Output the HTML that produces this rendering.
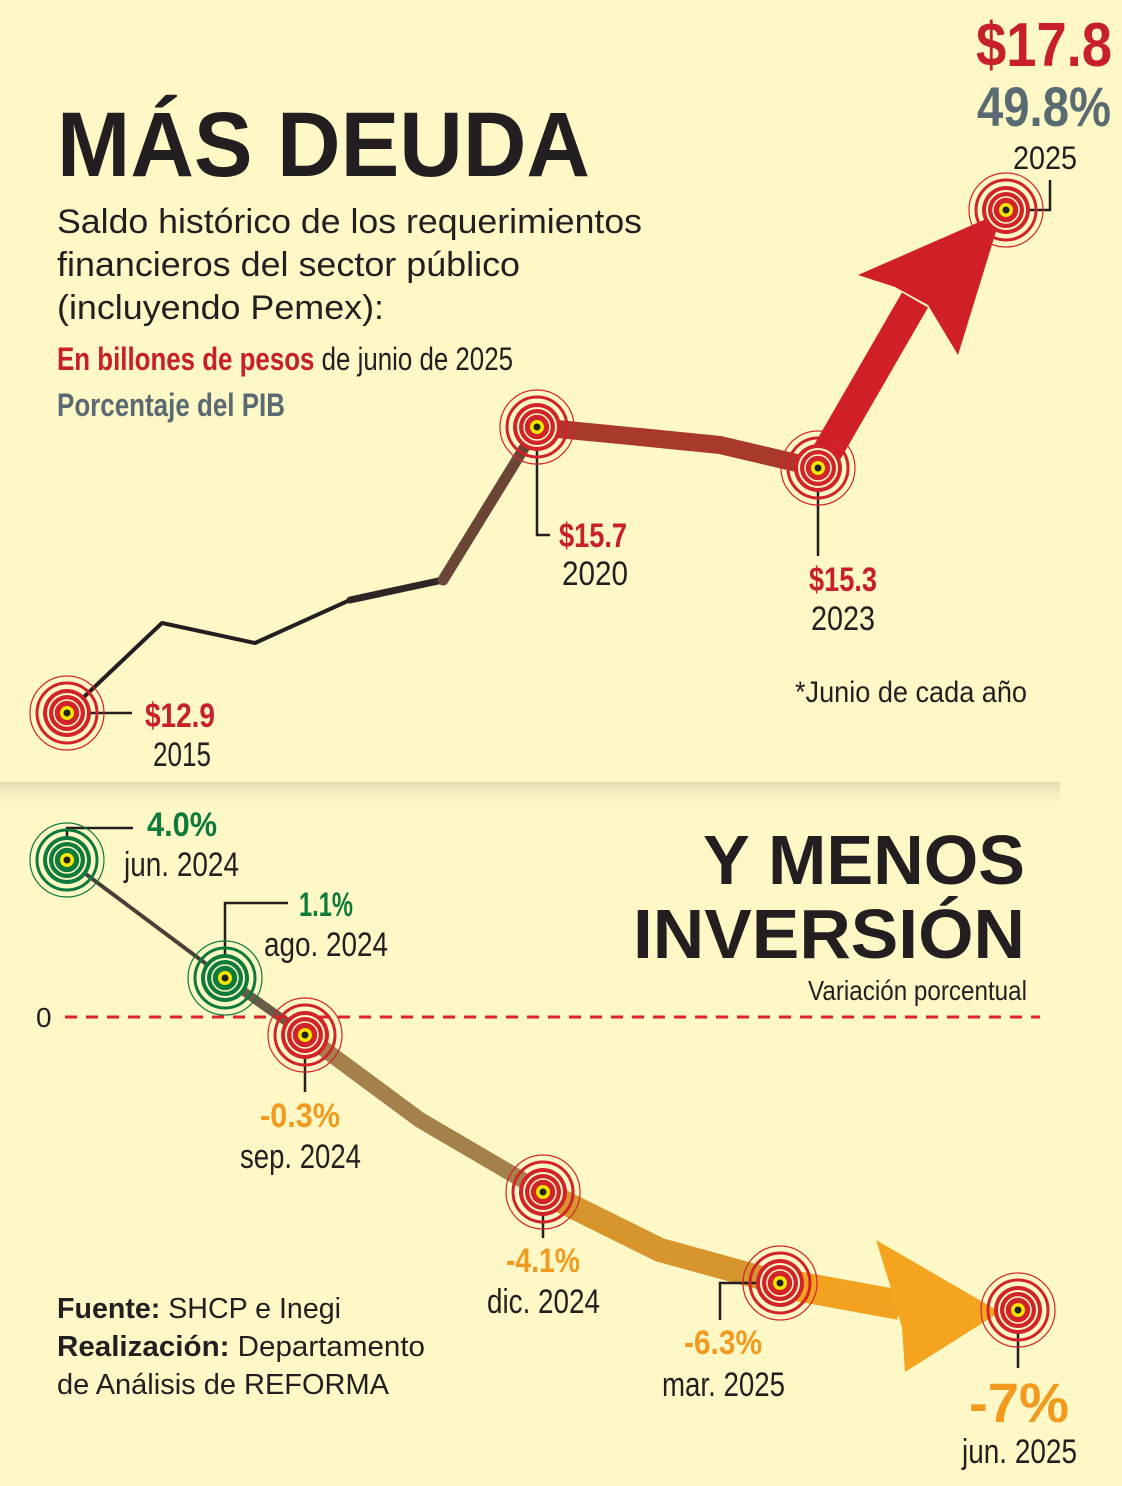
<!DOCTYPE html>
<html><head><meta charset="utf-8">
<style>html,body{margin:0;padding:0;background:#fdf8c6;}svg{display:block;}</style></head>
<body>
<svg width="1122" height="1486" viewBox="0 0 1122 1486" xmlns="http://www.w3.org/2000/svg" font-family="Liberation Sans, sans-serif">
<defs>
<linearGradient id="band" x1="0" y1="0" x2="0" y2="1">
<stop offset="0" stop-color="#e2dcb0"/><stop offset="1" stop-color="#fdf8c6" stop-opacity="0"/></linearGradient>
<g id="tr">
<circle r="37" fill="none" stroke="#d2232a" stroke-width="1.2"/>
<circle r="30" fill="none" stroke="#d2232a" stroke-width="3"/>
<circle r="24" fill="#d2232a"/>
<circle r="19" fill="none" stroke="#fdf8c6" stroke-width="2"/>
<circle r="13" fill="none" stroke="#fdf8c6" stroke-width="1.5"/>
<circle r="7" fill="#f5e600"/><circle r="3.5" fill="#222"/>
</g>
<g id="tg">
<circle r="37" fill="none" stroke="#0e7a3c" stroke-width="1.2"/>
<circle r="30" fill="none" stroke="#0e7a3c" stroke-width="3"/>
<circle r="24" fill="#0e7a3c"/>
<circle r="19" fill="none" stroke="#fdf8c6" stroke-width="2"/>
<circle r="13" fill="none" stroke="#fdf8c6" stroke-width="1.5"/>
<circle r="7" fill="#f5e600"/><circle r="3.5" fill="#222"/>
</g>
</defs>
<rect width="1122" height="1486" fill="#fdf8c6"/>
<rect x="0" y="782" width="1060" height="30" fill="url(#band)"/>

<!-- top line -->
<g fill="none" stroke-linecap="round" stroke-linejoin="round">
<polyline points="67,713 162,623 255,643 350,600" stroke="#231f20" stroke-width="4"/>
<polyline points="350,600 443,580" stroke="#2e2624" stroke-width="7"/>
<polyline points="443,580 537,427" stroke="#6b4535" stroke-width="11"/>
<polyline points="537,427 640,437 720,445 818,468" stroke="#a93a2a" stroke-width="18"/>
<polyline points="818,468 915,300" stroke="#d11f26" stroke-width="30" stroke-linecap="butt"/>
</g>
<polygon points="858,275 1002,212 958,355 928,305 895,287" fill="#d11f26"/>

<!-- bottom line -->
<g fill="none" stroke-linecap="round" stroke-linejoin="round">
<polyline points="67,860 225,978" stroke="#4a403a" stroke-width="4"/>
<polyline points="225,978 305,1035" stroke="#6b5a45" stroke-width="9"/>
<polyline points="305,1035 420,1120 543,1192" stroke="#a4804a" stroke-width="16"/>
<polyline points="543,1192 660,1250 780,1283" stroke="#d7952e" stroke-width="24"/>
<polyline points="780,1283 900,1305" stroke="#f2a21f" stroke-width="30" stroke-linecap="butt"/>
</g>
<polygon points="876,1240 1000,1312 905,1372 902,1328 890,1285" fill="#f4a41e"/>

<line x1="65" y1="1017" x2="1040" y2="1017" stroke="#e0232a" stroke-width="3" stroke-dasharray="12,9"/>
<text x="36" y="1027" font-size="28" fill="#231f20">0</text>

<!-- leader lines -->
<g stroke="#231f20" stroke-width="2.5" fill="none">
<polyline points="67,713 132,713"/>
<polyline points="537,427 537,535 550,535"/>
<polyline points="818,468 818,556"/>
<polyline points="1006,210 1050,210 1050,180"/>
<polyline points="67,860 67,828 133,828"/>
<polyline points="225,978 225,903 288,903"/>
<polyline points="305,1035 305,1092"/>
<polyline points="543,1192 543,1238"/>
<polyline points="780,1283 720,1283 720,1320"/>
<polyline points="1018,1310 1018,1368"/>
</g>

<use href="#tr" x="67" y="713"/>
<use href="#tr" x="537" y="427"/>
<use href="#tr" x="818" y="468"/>
<use href="#tr" x="1006" y="210"/>
<use href="#tg" x="67" y="860"/>
<use href="#tg" x="225" y="978"/>
<use href="#tr" x="305" y="1035"/>
<use href="#tr" x="543" y="1192"/>
<use href="#tr" x="780" y="1283"/>
<use href="#tr" x="1018" y="1310"/>

<!-- top texts -->
<text x="57" y="176" font-size="92" font-weight="bold" fill="#231f20" textLength="533" lengthAdjust="spacingAndGlyphs">MÁS DEUDA</text>
<g font-size="34" fill="#231f20">
<text x="57" y="233" textLength="585" lengthAdjust="spacingAndGlyphs">Saldo histórico de los requerimientos</text>
<text x="57" y="276" textLength="463" lengthAdjust="spacingAndGlyphs">financieros del sector público</text>
<text x="57" y="319" textLength="327" lengthAdjust="spacingAndGlyphs">(incluyendo Pemex):</text>
</g>
<text x="57" y="370" font-size="32" fill="#231f20" textLength="456" lengthAdjust="spacingAndGlyphs"><tspan fill="#c8202a" font-weight="bold">En billones de pesos</tspan> de junio de 2025</text>
<text x="57" y="416" font-size="32" font-weight="bold" fill="#5a6a72" textLength="228" lengthAdjust="spacingAndGlyphs">Porcentaje del PIB</text>

<text x="976" y="66" font-size="62" font-weight="bold" fill="#c8202a" textLength="136" lengthAdjust="spacingAndGlyphs">$17.8</text>
<text x="977" y="126" font-size="56" font-weight="bold" fill="#5a6a72" textLength="134" lengthAdjust="spacingAndGlyphs">49.8%</text>
<text x="1013" y="169" font-size="32" fill="#231f20" textLength="64" lengthAdjust="spacingAndGlyphs">2025</text>

<text x="145" y="727" font-size="34" font-weight="bold" fill="#c8202a" textLength="70" lengthAdjust="spacingAndGlyphs">$12.9</text>
<text x="153" y="766" font-size="34" fill="#231f20" textLength="58" lengthAdjust="spacingAndGlyphs">2015</text>
<text x="559" y="547" font-size="34" font-weight="bold" fill="#c8202a" textLength="68" lengthAdjust="spacingAndGlyphs">$15.7</text>
<text x="562" y="585" font-size="34" fill="#231f20" textLength="66" lengthAdjust="spacingAndGlyphs">2020</text>
<text x="809" y="591" font-size="34" font-weight="bold" fill="#c8202a" textLength="68" lengthAdjust="spacingAndGlyphs">$15.3</text>
<text x="811" y="630" font-size="34" fill="#231f20" textLength="64" lengthAdjust="spacingAndGlyphs">2023</text>
<text x="795" y="702" font-size="30" fill="#231f20" textLength="232" lengthAdjust="spacingAndGlyphs">*Junio de cada año</text>

<!-- bottom texts -->
<text x="1025" y="884" text-anchor="end" font-size="70" font-weight="bold" fill="#231f20" textLength="322" lengthAdjust="spacingAndGlyphs">Y MENOS</text>
<text x="1025" y="958" text-anchor="end" font-size="70" font-weight="bold" fill="#231f20" textLength="392" lengthAdjust="spacingAndGlyphs">INVERSIÓN</text>
<text x="808" y="1000" font-size="28" fill="#231f20" textLength="219" lengthAdjust="spacingAndGlyphs">Variación porcentual</text>

<text x="147" y="836" font-size="34" font-weight="bold" fill="#0e7a3c" textLength="70" lengthAdjust="spacingAndGlyphs">4.0%</text>
<text x="124" y="876" font-size="34" fill="#231f20" textLength="115" lengthAdjust="spacingAndGlyphs">jun. 2024</text>
<text x="299" y="916" font-size="34" font-weight="bold" fill="#0e7a3c" textLength="54" lengthAdjust="spacingAndGlyphs">1.1%</text>
<text x="264" y="956" font-size="34" fill="#231f20" textLength="124" lengthAdjust="spacingAndGlyphs">ago. 2024</text>
<text x="260" y="1127" font-size="34" font-weight="bold" fill="#f29a1d" textLength="80" lengthAdjust="spacingAndGlyphs">-0.3%</text>
<text x="240" y="1168" font-size="34" fill="#231f20" textLength="121" lengthAdjust="spacingAndGlyphs">sep. 2024</text>
<text x="506" y="1272" font-size="34" font-weight="bold" fill="#f29a1d" textLength="74" lengthAdjust="spacingAndGlyphs">-4.1%</text>
<text x="487" y="1313" font-size="34" fill="#231f20" textLength="113" lengthAdjust="spacingAndGlyphs">dic. 2024</text>
<text x="684" y="1354" font-size="34" font-weight="bold" fill="#f29a1d" textLength="78" lengthAdjust="spacingAndGlyphs">-6.3%</text>
<text x="662" y="1396" font-size="34" fill="#231f20" textLength="123" lengthAdjust="spacingAndGlyphs">mar. 2025</text>
<text x="969" y="1422" font-size="56" font-weight="bold" fill="#f29a1d" textLength="100" lengthAdjust="spacingAndGlyphs">-7%</text>
<text x="962" y="1463" font-size="34" fill="#231f20" textLength="115" lengthAdjust="spacingAndGlyphs">jun. 2025</text>

<g font-size="29" fill="#231f20">
<text x="57" y="1318" textLength="284" lengthAdjust="spacingAndGlyphs"><tspan font-weight="bold">Fuente:</tspan> SHCP e Inegi</text>
<text x="57" y="1356" textLength="368" lengthAdjust="spacingAndGlyphs"><tspan font-weight="bold">Realización:</tspan> Departamento</text>
<text x="57" y="1394" textLength="332" lengthAdjust="spacingAndGlyphs">de Análisis de REFORMA</text>
</g>
</svg>
</body></html>
